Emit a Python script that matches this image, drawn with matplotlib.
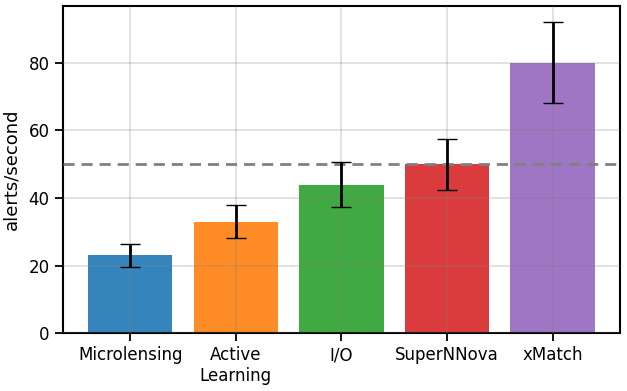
import matplotlib
matplotlib.use("Agg")
import matplotlib.pyplot as plt

# data
tasks = ["Microlensing", "Active\nLearning", "I/O", "SuperNNova", "xMatch"]
rates = [23, 33, 44, 50, 80]
errors = [3.45, 4.95, 6.6, 7.5, 12]
colors = ["tab:blue", "tab:orange", "tab:green", "tab:red", "tab:purple"]
target_rate = 50

plt.rcParams["font.family"] = "DejaVu Sans"

fig, ax = plt.subplots(figsize=(6.27, 3.91), dpi=100)
fig.subplots_adjust(left=0.1, right=0.989, top=0.985, bottom=0.148)

x = range(len(tasks))
ax.bar(x, rates, width=0.8, color=colors, alpha=0.9, zorder=1)
ax.errorbar(x, rates, yerr=errors, fmt="none", ecolor="black",
            elinewidth=2, capsize=7, capthick=1, zorder=4)
ax.axhline(target_rate, color="gray", ls="--", lw=2, zorder=3,
           dashes=(4, 2.5))

ax.set_axisbelow(False)
ax.grid(True, color="gray", lw=1.3, alpha=0.25, zorder=2)

ax.set_xticks(list(x))
ax.set_xticklabels(tasks)
ax.set_ylim(0, 96.9)
ax.set_yticks([0, 20, 40, 60, 80])
ax.set_ylabel("alerts/second", fontsize=13, labelpad=6)
ax.tick_params(axis="both", labelsize=12, length=6, width=1.3)
for s in ax.spines.values():
    s.set_linewidth(1.5)

fig.savefig("out.png", dpi=100)
